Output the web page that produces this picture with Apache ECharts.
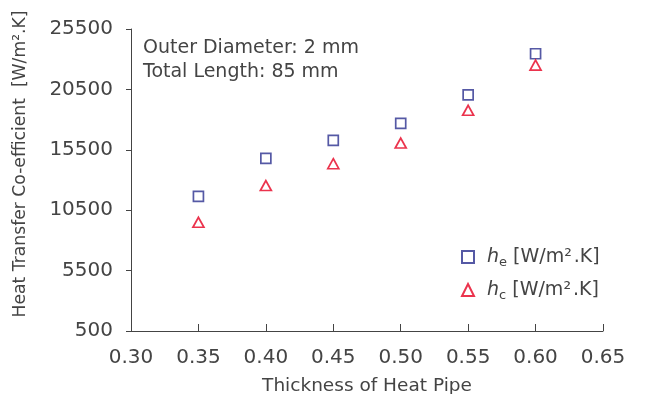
<!DOCTYPE html>
<html><head><meta charset="utf-8">
<script src="https://cdn.jsdelivr.net/npm/echarts@6/dist/echarts.min.js"></script>
<style>html,body{margin:0;padding:0;background:#fff}#c{width:661px;height:394px}</style>
</head><body><div id="c"></div>
<script>
const thickness = [0.35, 0.40, 0.45, 0.50, 0.55, 0.60];
const hE = [11650, 14790, 16280, 17690, 20040, 23450];
const hC = [9500, 12540, 14350, 16060, 18770, 22510];
const xTicks = {min: 0.30, max: 0.65, interval: 0.05};
const yTicks = {min: 500, max: 25500, interval: 5000};
const FONT = 'DejaVu Sans';
const TC = '#444';
const chart = echarts.init(document.getElementById('c'));
const toPairs = (xs, ys) => xs.map((x, i) => [x, ys[i]]);
chart.setOption({
  animation: false,
  textStyle: {fontFamily: FONT},
  grid: {left: 131, right: 58, top: 29, bottom: 63, containLabel: false, outerBoundsMode: 'none'},
  title: {
    text: 'Outer Diameter: 2 mm\nTotal Length: 85 mm',
    left: 143, top: 36, padding: 0,
    textStyle: {fontFamily: FONT, fontSize: 19, fontWeight: 'normal', color: TC, lineHeight: 24}
  },
  legend: {
    orient: 'vertical', left: 461, top: 246, itemGap: 10, itemWidth: 12, itemHeight: 12,
    padding: 0,
    data: ['he', 'hc'],
    formatter: n => n === 'he' ? ' {i|h}{s|e} [W/m²\u200A.K]' : ' {i|h}{s|c} [W/m²\u200A.K]',
    textStyle: {
      fontFamily: FONT, fontSize: 19, color: TC, lineHeight: 22,
      rich: {
        i: {fontFamily: FONT, fontSize: 19, fontStyle: 'italic', color: TC, padding: [0, 0, 0, 2]},
        s: {fontFamily: FONT, fontSize: 13, color: TC, padding: [11, 0, 0, 0]}
      }
    }
  },
  xAxis: {
    type: 'value', min: xTicks.min, max: xTicks.max, interval: xTicks.interval,
    name: 'Thickness of Heat Pipe', nameLocation: 'middle', nameGap: 46,
    nameTextStyle: {fontFamily: FONT, fontSize: 18.5, color: TC},
    axisLine: {lineStyle: {color: '#444', width: 1}},
    axisTick: {inside: true, length: 7, lineStyle: {color: '#444'}},
    axisLabel: {formatter: v => v.toFixed(2), fontSize: 20, color: TC, margin: 17},
    splitLine: {show: false}
  },
  yAxis: {
    type: 'value', min: yTicks.min, max: yTicks.max, interval: yTicks.interval,
    name: 'Heat Transfer Co-efficient  [W/m².K]', nameLocation: 'middle', nameGap: 102,
    nameTextStyle: {fontFamily: FONT, fontSize: 17.2, color: TC, padding: [0, 0, 0, 32]},
    axisLine: {show: true, lineStyle: {color: '#444', width: 1}},
    axisTick: {show: true, inside: false, length: 5, lineStyle: {color: '#444'}},
    axisLabel: {formatter: v => String(v), fontSize: 20, color: TC, margin: 18},
    splitLine: {show: false}
  },
  series: [
    {name: 'he', type: 'scatter', symbol: 'rect', symbolSize: 10,
     itemStyle: {color: '#fff', borderColor: '#2b2f8f', borderWidth: 1.7},
     data: toPairs(thickness, hE)},
    {name: 'hc', type: 'scatter', symbol: 'triangle', symbolSize: [11, 10],
     itemStyle: {color: '#fff', borderColor: '#e60020', borderWidth: 1.7},
     data: toPairs(thickness, hC)}
  ]
});
</script></body></html>
